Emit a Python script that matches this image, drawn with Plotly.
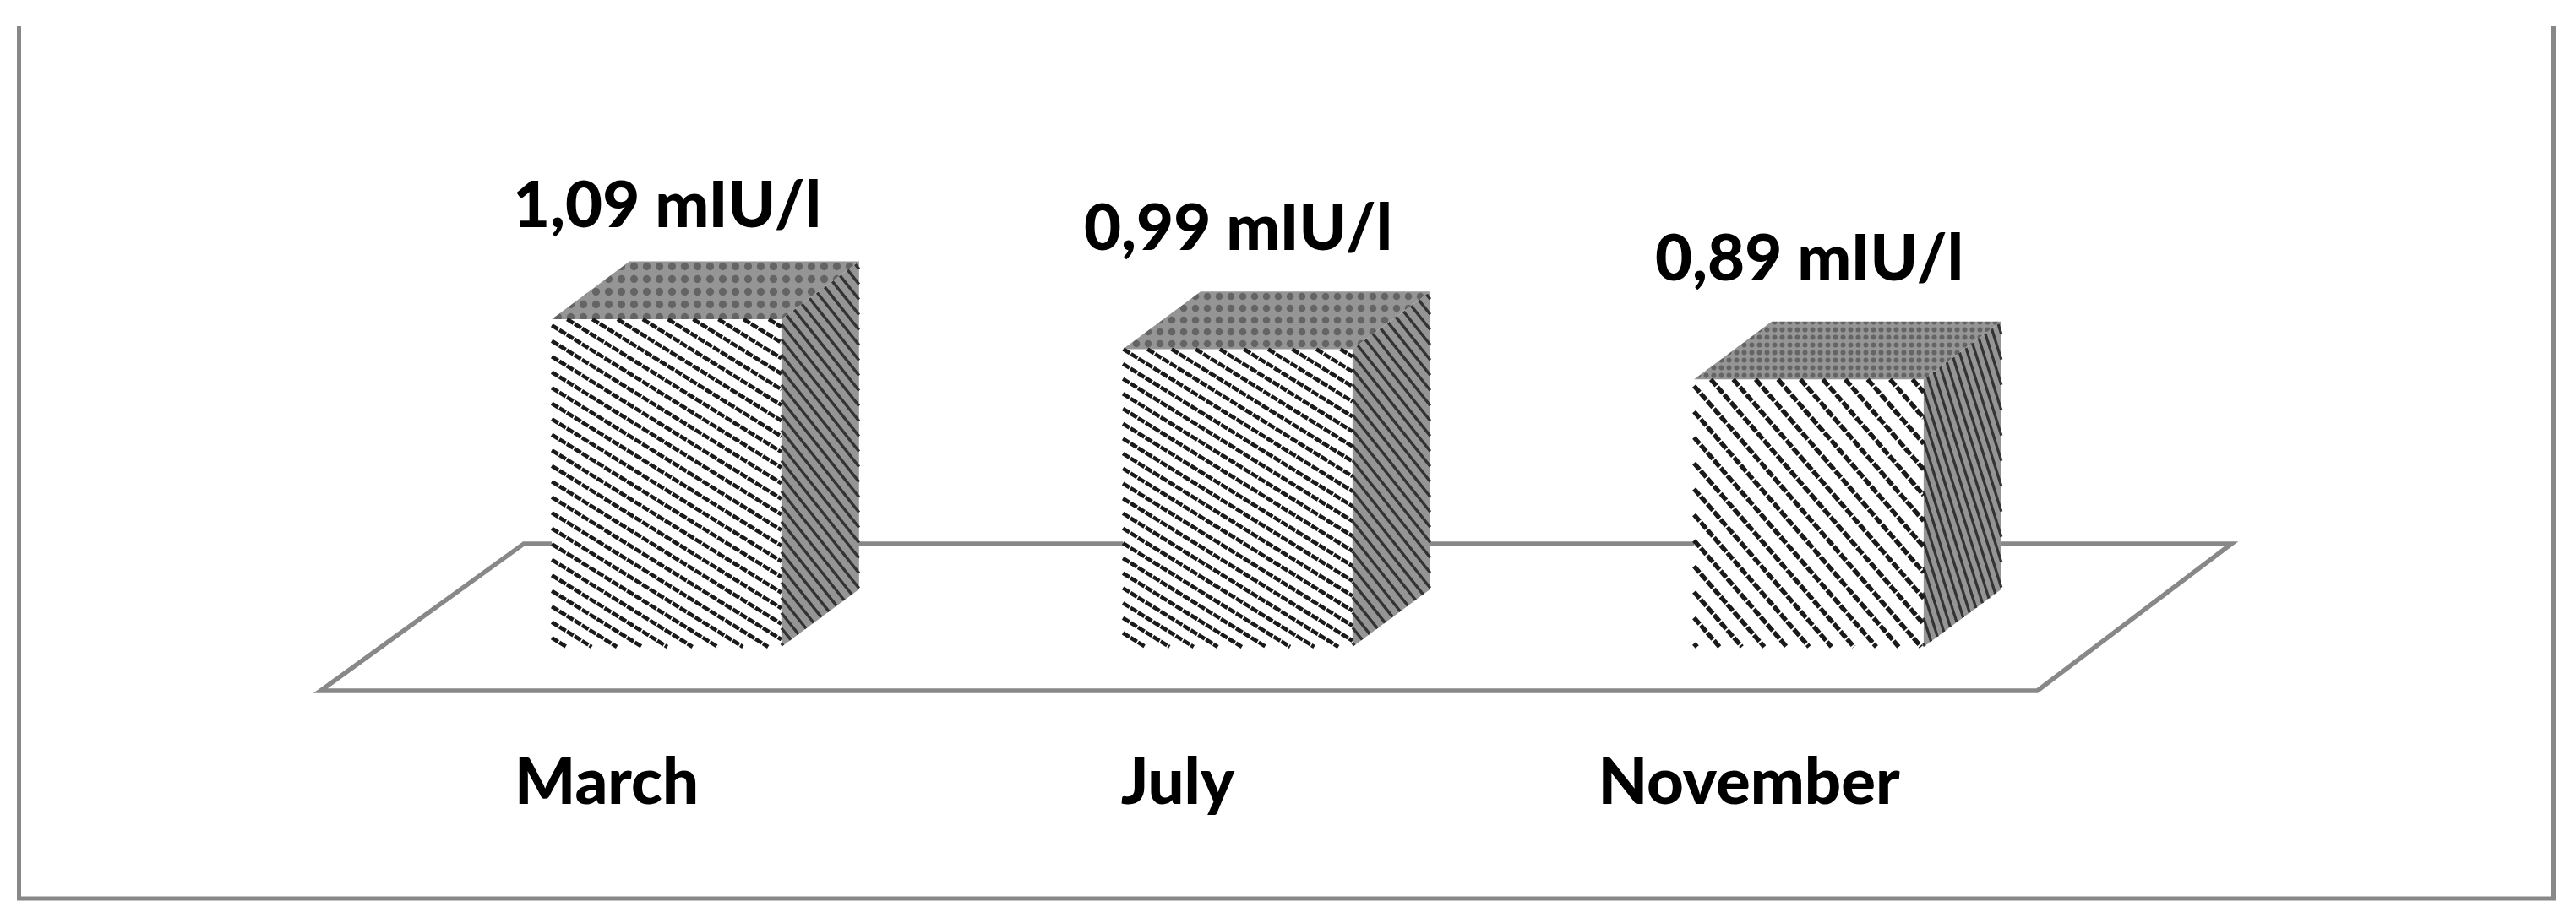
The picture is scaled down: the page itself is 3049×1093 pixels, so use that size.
import plotly.graph_objects as go

categories = ['March', 'July', 'November']
values = [1.09, 0.99, 0.89]
unit = 'mIU/l'

# page and scale of the plot, in pixels (the html body adds 8px around the figure)
PAGE_PAD = 8
WIDTH = 3049 - 2 * PAGE_PAD
HEIGHT = 1093 - 2 * PAGE_PAD
AXIS_BOTTOM = 867     # the tick labels hang under this line
ZERO_X = 781          # centre of the first bar
ZERO_Y = 758          # foot of the bars
PX_X = 676            # pixels per category
PX_Y = 356            # pixels per mIU/l

BAR_WIDTH = 0.402
DEPTH_X = 0.136
DEPTH_Y = 0.192
LABEL_SHIFT = -0.105
value_label_gap = [0.39, 0.412, 0.412]

FLOOR_Y = (-0.146, 0.343)
FLOOR_FRONT_X = (-0.606, 2.40)
FLOOR_BACK_X = (-0.25, 2.74)

GREY = '#888888'
FONT = dict(family='Lato', size=76, color='black', weight=900)

# hatching per bar: slope, vertical spacing (px), line width, dash
front_hatch = [
    (0.62, 18.5, 4.6, '9px,1.5px'),
    (0.62, 17.7, 4.6, '9px,1.5px'),
    (1.15, 30.5, 5.4, '10px,2px'),
]
side_hatch = [
    (1.25, 18, 3.4, 'solid'),
    (1.25, 18, 3.4, 'solid'),
    (3.2, 30, 3.2, 'solid'),
]
top_pattern = [
    dict(size=15, solidity=0.3),
    dict(size=14, solidity=0.3),
    dict(size=9, solidity=0.35),
]


def hatch_lines(face_x, face_y, slope, step):
    # parallel lines clipped to a convex face, worked out in pixel space
    pts = [(x * PX_X, -y * PX_Y) for x, y in zip(face_x, face_y)]
    offsets = [py - slope * px for px, py in pts]
    xs, ys = [], []
    c = min(offsets) + step / 2
    while c < max(offsets):
        hits = []
        for (x0, y0), (x1, y1) in zip(pts, pts[1:] + pts[:1]):
            d0 = y0 - slope * x0 - c
            d1 = y1 - slope * x1 - c
            if d0 * d1 < 0:
                hits.append(x0 + (x1 - x0) * d0 / (d0 - d1))
        if len(hits) >= 2:
            for px in (min(hits), max(hits)):
                xs.append(px / PX_X)
                ys.append(-(slope * px + c) / PX_Y)
            xs.append(None)
            ys.append(None)
        c += step
    return xs, ys


positions = list(range(len(categories)))

fig = go.Figure()
fig.add_trace(go.Bar(
    x=positions,
    y=values,
    width=BAR_WIDTH,
    marker=dict(color='white', line_width=0),
    hoverinfo='skip',
))

for i, (pos, val) in enumerate(zip(positions, values)):
    left = pos - BAR_WIDTH / 2
    right = pos + BAR_WIDTH / 2

    # right hand face
    side_x = [right, right + DEPTH_X, right + DEPTH_X, right]
    side_y = [0, DEPTH_Y, val + DEPTH_Y, val]
    fig.add_trace(go.Scatter(
        x=side_x + side_x[:1], y=side_y + side_y[:1], mode='none',
        fill='toself', fillcolor='#959595', hoverinfo='skip',
    ))
    slope, step, lw, dash = side_hatch[i]
    hx, hy = hatch_lines(side_x, side_y, slope, step)
    fig.add_trace(go.Scatter(
        x=hx, y=hy, mode='lines', hoverinfo='skip',
        line=dict(color='#333333', width=lw, dash=dash),
    ))

    # top face
    top_x = [left, left + DEPTH_X, right + DEPTH_X, right]
    top_y = [val, val + DEPTH_Y, val + DEPTH_Y, val]
    fig.add_trace(go.Scatter(
        x=top_x + top_x[:1], y=top_y + top_y[:1], mode='none',
        fill='toself', hoverinfo='skip',
        fillpattern=dict(shape='.', fgcolor='#333333', bgcolor='#959595',
                         **top_pattern[i]),
    ))

    # front hatching
    front_x = [left, right, right, left]
    front_y = [0, 0, val, val]
    slope, step, lw, dash = front_hatch[i]
    hx, hy = hatch_lines(front_x, front_y, slope, step)
    fig.add_trace(go.Scatter(
        x=hx, y=hy, mode='lines', hoverinfo='skip',
        line=dict(color='#1a1a1a', width=lw, dash=dash),
    ))

    fig.add_annotation(
        x=pos, y=val + value_label_gap[i],
        text=f'{val:.2f}'.replace('.', ',') + ' ' + unit,
        showarrow=False, font=FONT, xanchor='center', yanchor='middle',
    )

floor_path = (
    f'M {FLOOR_FRONT_X[0]} {FLOOR_Y[0]} L {FLOOR_FRONT_X[1]} {FLOOR_Y[0]} '
    f'L {FLOOR_BACK_X[1]} {FLOOR_Y[1]} L {FLOOR_BACK_X[0]} {FLOOR_Y[1]} Z'
)
fig.add_shape(type='path', path=floor_path, xref='x', yref='y', layer='below',
              line=dict(color=GREY, width=5.5), fillcolor='white')

# outer frame has no top edge
frame_l = (22.5 - PAGE_PAD) / WIDTH
frame_r = (3022.5 - PAGE_PAD) / WIDTH
frame_t = 1 - (31 - PAGE_PAD) / AXIS_BOTTOM
frame_b = 1 - (1064 - PAGE_PAD) / AXIS_BOTTOM
fig.add_shape(
    type='path', xref='paper', yref='paper',
    path=f'M {frame_l} {frame_t} L {frame_l} {frame_b} L {frame_r} {frame_b} L {frame_r} {frame_t}',
    line=dict(color=GREY, width=5),
)

fig.update_layout(
    width=WIDTH,
    height=HEIGHT,
    margin=dict(l=0, r=0, t=0, b=HEIGHT - AXIS_BOTTOM),
    paper_bgcolor='white',
    plot_bgcolor='rgba(0,0,0,0)',
    showlegend=False,
    xaxis=dict(
        range=[-ZERO_X / PX_X, (WIDTH - ZERO_X) / PX_X],
        tickmode='array',
        tickvals=[p + LABEL_SHIFT for p in positions],
        ticktext=categories,
        tickfont=FONT,
        ticks='',
        showgrid=False,
        zeroline=False,
        showline=False,
    ),
    yaxis=dict(
        range=[-(AXIS_BOTTOM - ZERO_Y) / PX_Y, ZERO_Y / PX_Y],
        visible=False,
    ),
)

fig.write_html('out.html')
